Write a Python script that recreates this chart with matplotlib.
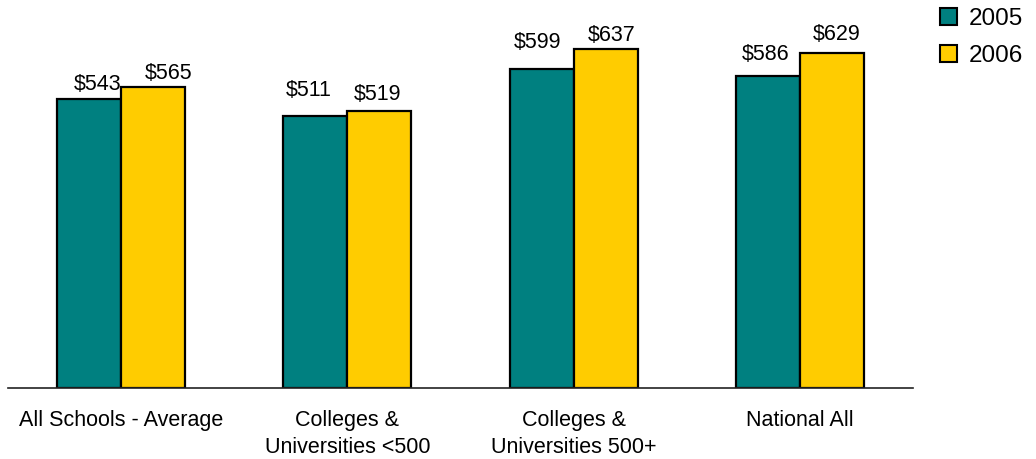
import matplotlib
matplotlib.use("Agg")
import matplotlib.pyplot as plt
import numpy as np
from matplotlib.patches import Patch

categories = ["All Schools - Average", "Colleges &\nUniversities <500",
              "Colleges &\nUniversities 500+", "National All"]
years = ["2005", "2006"]
values_2005 = [543, 511, 599, 586]
values_2006 = [565, 519, 637, 629]

teal = "#008080"
gold = "#FFCC00"

plt.rcParams["font.family"] = ["Liberation Sans", "DejaVu Sans"]

fig = plt.figure(figsize=(10.36, 4.59), dpi=100)
ax = fig.add_axes([8 / 1036, 1 - 388 / 459, 905 / 1036, (388 - 15) / 459])

x = np.arange(len(categories))
w = 0.283
b1 = ax.bar(x - w / 2, values_2005, w, color=teal, edgecolor="black", linewidth=1.6)
b2 = ax.bar(x + w / 2, values_2006, w, color=gold, edgecolor="black", linewidth=1.6)

# hand-placed label offsets (pixels: dx, gap above bar top)
nudge_2005 = [(8, 9), (-7, 20), (-4, 21), (-2, 16)]
nudge_2006 = [(15, 8), (-2, 11), (6, 8), (5, 13)]
px = 72 / fig.dpi
for bars, vals, nudges in [(b1, values_2005, nudge_2005), (b2, values_2006, nudge_2006)]:
    for rect, v, (dx, dy) in zip(bars, vals, nudges):
        ax.annotate(f"${v}", (rect.get_x() + rect.get_width() / 2, v),
                    xytext=(dx * px, dy * px), textcoords="offset points",
                    ha="center", va="baseline", fontsize=15.5)

ax.set_xlim(-0.5, 3.5)
ax.set_ylim(0, 700)
ax.set_xticks(x)
ax.set_xticklabels(categories, fontsize=15.5, linespacing=1.33)
ax.tick_params(axis="x", length=0, pad=16)
ax.set_yticks([])
for side in ["top", "right", "left"]:
    ax.spines[side].set_visible(False)
ax.spines["bottom"].set_linewidth(1.2)
ax.spines["bottom"].set_color("#222222")

handles = [Patch(facecolor=teal, edgecolor="black", linewidth=1.5),
           Patch(facecolor=gold, edgecolor="black", linewidth=1.5)]
fig.legend(handles, years, loc="upper left", bbox_to_anchor=(940 / 1036, 1 - 8 / 459),
           frameon=False, fontsize=17.5, handlelength=0.7, handleheight=0.7,
           handletextpad=0.5, labelspacing=0.62, borderpad=0, borderaxespad=0)

fig.savefig("out.png", dpi=100)
